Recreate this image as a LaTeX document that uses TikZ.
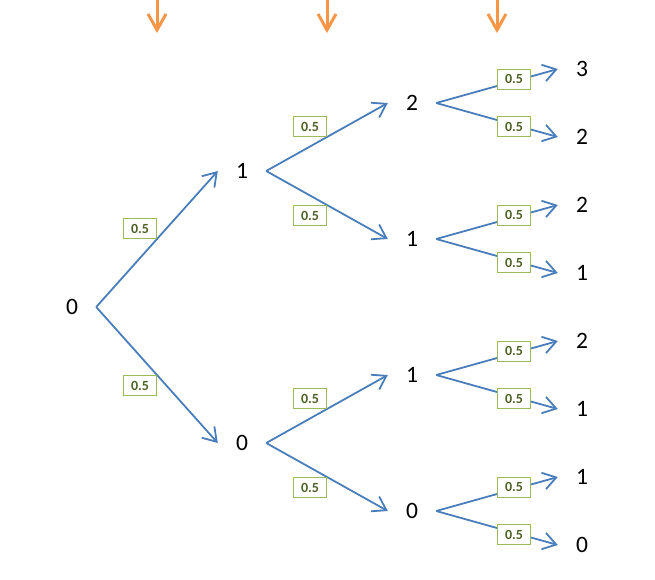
\documentclass[tikz,border=0pt]{standalone}
\usepackage{fontspec}
\setmainfont{Carlito}
\usetikzlibrary{arrows.meta}
\definecolor{edgeblue}{HTML}{4A7EBB}
\definecolor{markorange}{HTML}{F79646}
\definecolor{probgreen}{HTML}{9BBB59}
\definecolor{probtext}{HTML}{4F6228}
\tikzset{
  val/.style={font=\fontsize{23.5}{27}\selectfont, minimum width=48pt, inner sep=0pt},
  br/.style={draw=edgeblue, line width=1.8pt, -{Straight Barb[length=13pt,width=17pt]}},
  prob/.style={draw=probgreen, line width=1pt, fill=white, text=probtext,
    font=\fontsize{14}{16}\selectfont\bfseries, minimum width=33pt, minimum height=20pt, inner sep=0pt},
}
\begin{document}
\begin{tikzpicture}[x=1pt,y=-1pt]
\useasboundingbox (0,0) rectangle (655,579);

% step markers
\foreach \x in {157,327,497}
  \draw[markorange, line width=3pt, -{Straight Barb[length=16pt,width=18pt]}] (\x,0) -- (\x,33);

% values
\node[val] (r) at (72,307) {0};

\node[val] (u) at (242,171) {1};
\node[val] (d) at (242,443) {0};

\node[val] (uu) at (412,103) {2};
\node[val] (ud) at (412,239) {1};
\node[val] (du) at (412,375) {1};
\node[val] (dd) at (412,511) {0};

\node[val] (uuu) at (582,69) {3};
\node[val] (uud) at (582,137) {2};
\node[val] (udu) at (582,205) {2};
\node[val] (udd) at (582,273) {1};
\node[val] (duu) at (582,341) {2};
\node[val] (dud) at (582,409) {1};
\node[val] (ddu) at (582,477) {1};
\node[val] (ddd) at (582,545) {0};

% first and second step
\draw[br] (r.east) -- node[prob, anchor=south east] {0.5} (u.west);
\draw[br] (r.east) -- node[prob, anchor=north east] {0.5} (d.west);
\draw[br] (u.east) -- node[prob, anchor=south east] {0.5} (uu.west);
\draw[br] (u.east) -- node[prob, anchor=north east] {0.5} (ud.west);
\draw[br] (d.east) -- node[prob, anchor=south east] {0.5} (du.west);
\draw[br] (d.east) -- node[prob, anchor=north east] {0.5} (dd.west);

% third step
\draw[br] (uu.east) -- node[prob, pos=0.64, yshift=2pt] {0.5} (uuu.west);
\draw[br] (uu.east) -- node[prob, pos=0.64, yshift=-2pt] {0.5} (uud.west);
\draw[br] (ud.east) -- node[prob, pos=0.64, yshift=2pt] {0.5} (udu.west);
\draw[br] (ud.east) -- node[prob, pos=0.64, yshift=-2pt] {0.5} (udd.west);
\draw[br] (du.east) -- node[prob, pos=0.64, yshift=2pt] {0.5} (duu.west);
\draw[br] (du.east) -- node[prob, pos=0.64, yshift=-2pt] {0.5} (dud.west);
\draw[br] (dd.east) -- node[prob, pos=0.64, yshift=2pt] {0.5} (ddu.west);
\draw[br] (dd.east) -- node[prob, pos=0.64, yshift=-2pt] {0.5} (ddd.west);
\end{tikzpicture}
\end{document}
